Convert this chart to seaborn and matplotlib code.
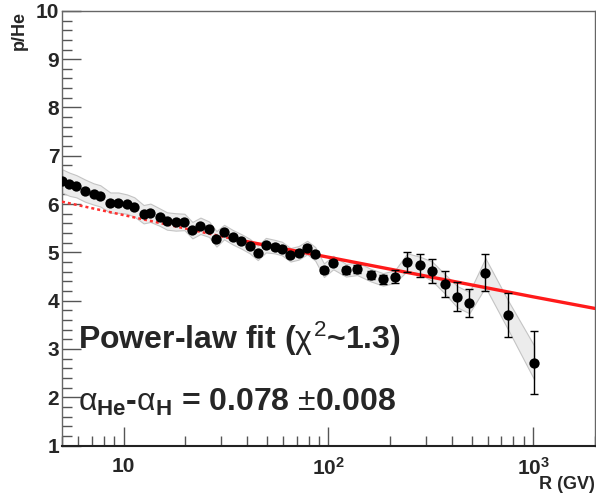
import numpy as np
import pandas as pd
import matplotlib
matplotlib.use("Agg")
import matplotlib.pyplot as plt
import seaborn as sns
from matplotlib.ticker import FixedLocator, LogLocator, NullFormatter, MultipleLocator

# rigidity bins (GV) and measured p/He ratio
rigidity = [5.01, 5.44, 5.87, 6.47, 7.13, 7.69, 8.61, 9.42, 10.38, 11.28,
            12.52, 13.51, 15.0, 16.28, 17.96, 19.81, 21.67, 23.72, 26.13, 28.40,
            30.94, 34.23, 37.47, 41.32, 45.2, 49.5, 54.6, 59.3, 65.3, 71.5,
            78.8, 86.2, 95.1, 105.6, 121.8, 138.3, 160.9, 184.8, 211.4, 242.8,
            280.2, 320.8, 370.1, 426.4, 488.2, 584.4, 754.9, 1011.0]
ratio = [6.48, 6.41, 6.37, 6.28, 6.21, 6.17, 6.03, 6.03, 6.00, 5.94,
         5.79, 5.82, 5.73, 5.65, 5.63, 5.63, 5.46, 5.55, 5.48, 5.28,
         5.42, 5.31, 5.23, 5.13, 4.99, 5.15, 5.12, 5.08, 4.95, 4.99,
         5.10, 4.97, 4.63, 4.79, 4.63, 4.66, 4.53, 4.44, 4.50, 4.80,
         4.73, 4.61, 4.35, 4.08, 3.96, 4.58, 3.70, 2.72]
stat_err = [0.03, 0.03, 0.03, 0.03, 0.03, 0.03, 0.03, 0.03, 0.03, 0.03,
            0.03, 0.03, 0.03, 0.03, 0.03, 0.03, 0.03, 0.03, 0.03, 0.03,
            0.04, 0.04, 0.04, 0.04, 0.04, 0.04, 0.05, 0.05, 0.05, 0.05,
            0.05, 0.05, 0.06, 0.06, 0.07, 0.08, 0.09, 0.10, 0.14, 0.21,
            0.23, 0.25, 0.27, 0.30, 0.29, 0.38, 0.45, 0.66]
sys_err = [0.24, 0.24, 0.23, 0.23, 0.22, 0.22, 0.21, 0.21, 0.2, 0.2,
           0.19, 0.19, 0.18, 0.18, 0.18, 0.17, 0.17, 0.17, 0.16, 0.16,
           0.15, 0.15, 0.15, 0.15, 0.15, 0.15, 0.14, 0.14, 0.14, 0.14,
           0.14, 0.14, 0.14, 0.14, 0.13, 0.13, 0.13, 0.13, 0.13, 0.18,
           0.18, 0.2, 0.2, 0.22, 0.22, 0.3, 0.3, 0.35]

# power-law fit curve
fit_R = [5, 35, 100, 1000, 2000]
fit_ratio = [6.05, 5.27, 4.90, 4.08, 3.84]

df = pd.DataFrame({"R": rigidity, "ratio": ratio, "stat": stat_err, "sys": sys_err})
fit_df = pd.DataFrame({"R": fit_R, "ratio": fit_ratio})

sns.set_style("ticks")
plt.rcParams["font.family"] = ["Liberation Sans", "DejaVu Sans"]
plt.rcParams["mathtext.fontset"] = "custom"
plt.rcParams["mathtext.rm"] = "Liberation Sans"
plt.rcParams["mathtext.it"] = "Liberation Sans"
plt.rcParams["mathtext.bf"] = "Liberation Sans:bold"

fig = plt.figure(figsize=(5.96, 4.94), dpi=100)
ax = fig.add_axes([0.104, 0.098, 0.894, 0.880])

# systematic band
ax.fill_between(df["R"], df["ratio"] - df["sys"], df["ratio"] + df["sys"],
                color="#ececec", edgecolor="#c4c4c4", linewidth=0.8, zorder=1)

# fit line: dotted below 35 GV, solid above
lo = fit_df[fit_df["R"] <= 35]
hi = fit_df[fit_df["R"] >= 35]
sns.lineplot(data=lo, x="R", y="ratio", ax=ax, color="#ff3030", lw=1.8,
             linestyle=(0, (1.2, 1.2)), zorder=3)
sns.lineplot(data=hi, x="R", y="ratio", ax=ax, color="#ff1a1a", lw=2.4, zorder=3)

# data points with error bars
ax.errorbar(df["R"], df["ratio"], yerr=df["stat"], fmt="none", ecolor="black",
            elinewidth=1.0, capsize=3, capthick=1.0, zorder=4)
sns.scatterplot(data=df, x="R", y="ratio", ax=ax, color="black", s=55,
                edgecolor="black", linewidth=0, zorder=5)

ax.set_xscale("log")
ax.set_xlim(5, 2000)
ax.set_ylim(1, 10)

ax.xaxis.set_major_locator(FixedLocator([10, 100, 1000]))
ax.set_xticklabels(["10", r"$\mathbf{10^{2}}$", r"$\mathbf{10^{3}}$"])
ax.xaxis.set_minor_locator(LogLocator(base=10, subs=np.arange(2, 10), numticks=20))
ax.xaxis.set_minor_formatter(NullFormatter())
ax.yaxis.set_major_locator(MultipleLocator(1))
ax.yaxis.set_minor_locator(MultipleLocator(0.2))

ax.tick_params(axis="both", which="major", direction="in", length=14, width=1,
               color="#555555", labelsize=15, top=False, right=False)
ax.tick_params(axis="both", which="minor", direction="in", length=7, width=1,
               color="#555555", top=False, right=False)
ax.tick_params(axis="x", which="major", pad=8)
ax.tick_params(axis="y", which="major", pad=2)
for lab in ax.get_xticklabels() + ax.get_yticklabels():
    lab.set_fontweight("bold")

for side in ["top", "right", "left"]:
    ax.spines[side].set_color("#666666")
    ax.spines[side].set_linewidth(1.0)
ax.spines["bottom"].set_color("#222222")
ax.spines["bottom"].set_linewidth(1.5)

ax.set_xlabel("R (GV)", fontsize=13, fontweight="bold", loc="right", labelpad=-2)
ax.set_ylabel("p/He", fontsize=13, fontweight="bold", loc="top", labelpad=6)

ax.text(0.03, 0.245, r"Power-law fit ($\chi^{2}$~1.3)", transform=ax.transAxes,
        fontsize=23, fontweight="bold", va="center", ha="left")
ax.text(0.03, 0.10, r"$\alpha_{\mathbf{He}}$-$\alpha_{\mathbf{H}}$ = 0.078 $\pm$0.008",
        transform=ax.transAxes, fontsize=23, fontweight="bold", va="center", ha="left")

fig.savefig("out.png", dpi=100)
